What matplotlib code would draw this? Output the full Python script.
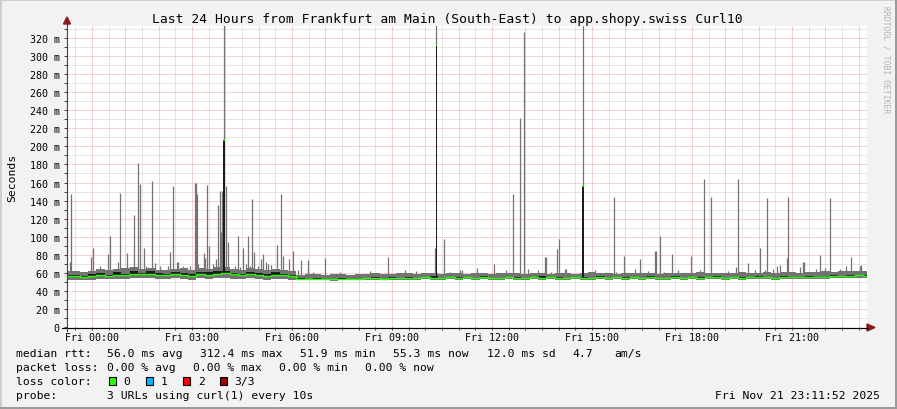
import numpy as np
import matplotlib
matplotlib.use("Agg")
import matplotlib.pyplot as plt
from matplotlib.patches import Rectangle, Polygon
from matplotlib.lines import Line2D

plt.rcParams['font.family'] = ['DejaVu Sans Mono']

# ---------------- data ----------------
title = "Last 24 Hours from Frankfurt am Main (South-East) to app.shopy.swiss Curl10"
hour_start, hour_end = -0.75, 23.25   # hours relative to Fri 00:00
step_h = 0.25

median_ms = [
    56.0, 56.5, 55.8, 56.8, 57.5, 57.0, 58.0, 57.5,
    59.0, 58.5, 59.2, 58.0, 57.5, 58.5, 57.8, 56.8,
    58.5, 58.0, 59.0, 59.5, 58.2, 57.5, 58.5, 57.5,
    57.0, 58.0, 57.2, 56.5, 53.5, 53.2, 53.5, 53.3,
    53.0, 53.4, 53.6, 53.3, 53.8, 54.2, 53.5, 54.6,
    54.2, 54.8, 54.4, 55.0, 54.6, 54.8, 55.2, 54.5,
    55.0, 54.4, 55.2, 54.6, 54.2, 55.0, 54.8, 54.3,
    55.2, 54.7, 54.9, 54.4, 54.8, 55.0, 54.2, 54.6,
    55.1, 54.5, 54.9, 54.3, 55.2, 54.6, 55.0, 54.4,
    54.8, 55.3, 54.6, 54.9, 54.3, 55.0, 55.4, 54.7,
    55.2, 54.6, 55.0, 55.6, 55.2, 54.8, 55.4, 55.0,
    55.6, 55.2, 55.8, 55.4, 56.6, 57.0, 56.8, 57.2,
    56.8]

smoke_top_ms = [
    62.0, 61.5, 61.0, 62.5, 64.0, 63.0, 64.0, 65.0,
    66.0, 64.5, 65.0, 63.5, 63.0, 64.0, 65.0, 63.0,
    65.0, 64.0, 66.0, 66.5, 64.0, 63.0, 65.0, 64.0,
    63.0, 64.0, 63.0, 62.0, 58.0, 58.5, 59.0, 58.0,
    58.5, 59.0, 58.0, 58.5, 59.0, 59.5, 58.5, 59.0,
    59.5, 60.0, 59.0, 59.5, 60.0, 59.0, 59.5, 60.0,
    59.0, 60.0, 59.5, 59.0, 60.0, 59.5, 60.0, 59.0,
    59.5, 60.0, 59.0, 59.5, 60.0, 59.0, 59.5, 60.5,
    59.5, 60.0, 59.0, 59.5, 60.0, 59.5, 60.0, 59.0,
    59.5, 60.0, 59.5, 60.0, 60.5, 59.5, 60.0, 59.5,
    60.0, 60.5, 60.0, 59.5, 60.5, 60.0, 60.5, 61.0,
    60.0, 60.5, 61.0, 61.5, 61.0, 61.5, 62.0, 61.5,
    62.0]

smoke_bottom_ms = [
    52.0, 52.5, 52.0, 52.5, 53.0, 53.0, 53.5, 53.0,
    54.0, 54.0, 54.5, 53.5, 53.0, 54.0, 53.5, 52.5,
    54.0, 53.5, 54.0, 54.5, 53.5, 53.0, 54.0, 53.0,
    52.5, 53.5, 53.0, 52.0, 51.8, 51.6, 51.8, 51.6,
    51.4, 51.6, 51.8, 51.6, 52.0, 52.2, 51.8, 52.4,
    52.2, 52.6, 52.2, 52.8, 52.4, 52.6, 53.0, 52.4,
    52.8, 52.2, 53.0, 52.4, 52.0, 52.8, 52.6, 52.2,
    53.0, 52.6, 52.8, 52.2, 52.6, 52.8, 52.0, 52.4,
    53.0, 52.4, 52.8, 52.2, 53.0, 52.4, 52.8, 52.2,
    52.6, 53.2, 52.4, 52.8, 52.2, 52.8, 53.2, 52.6,
    53.0, 52.4, 52.8, 53.4, 53.0, 52.6, 53.2, 52.8,
    53.4, 53.0, 53.6, 53.2, 54.0, 54.4, 54.2, 54.6,
    54.2]

dark_top_ms = [
    57.5, 58.0, 56.5, 59.0, 60.0, 58.0, 61.0, 59.0,
    61.5, 60.0, 62.0, 60.0, 58.5, 61.0, 60.0, 59.0,
    61.0, 60.5, 62.0, 62.5, 60.0, 59.0, 61.0, 60.0,
    58.5, 60.5, 59.0, 58.0, 54.0, 53.2, 54.5, 53.3,
    53.0, 54.4, 53.6, 53.3, 53.8, 55.5, 53.5, 55.6,
    54.2, 55.8, 54.4, 55.0, 56.0, 54.8, 55.2, 55.5,
    55.0, 54.4, 56.2, 54.6, 54.2, 55.0, 55.8, 54.3,
    55.2, 56.0, 54.9, 55.4, 54.8, 55.0, 55.5, 54.6,
    56.0, 54.5, 54.9, 55.3, 55.2, 54.6, 56.0, 54.4,
    54.8, 56.3, 54.6, 54.9, 55.5, 55.0, 56.4, 54.7,
    55.2, 55.6, 55.0, 56.6, 55.2, 54.8, 56.4, 55.0,
    55.6, 56.2, 55.8, 55.4, 57.6, 57.0, 58.0, 57.2,
    57.8]

spike_hours = [
    -0.67, -0.64, -0.04, 0.02, 0.23, 0.47, 0.53, 0.79, 0.84, 1.05, 1.13, 1.26,
    1.38, 1.44, 1.56, 1.63, 1.80, 1.90, 2.03, 2.28, 2.34, 2.43, 2.55, 2.58,
    2.73, 2.93, 3.09, 3.12, 3.16, 3.18, 3.36, 3.40, 3.46, 3.51, 3.63, 3.73,
    3.79, 3.83, 3.87, 3.89, 4.03, 4.09, 4.18, 4.28, 4.39, 4.43, 4.53, 4.63,
    4.68, 4.73, 4.81, 4.86, 4.98, 5.08, 5.13, 5.23, 5.28, 5.38, 5.54, 5.67,
    5.73, 5.91, 6.02, 6.17, 6.27, 6.49, 6.62, 7.00, 7.43, 8.33, 8.88, 9.38,
    9.73, 10.29, 10.56, 10.73, 11.03, 11.11, 11.55, 11.73, 12.06, 12.43, 12.63,
    12.84, 12.96, 13.08, 13.39, 13.60, 13.63, 13.78, 13.95, 14.01, 14.19, 14.21,
    15.08, 15.43, 15.66, 15.73, 15.96, 16.28, 16.44, 16.68, 16.90, 16.93, 17.04,
    17.15, 17.40, 17.58, 17.97, 18.23, 18.36, 18.57, 19.08, 19.33, 19.38, 19.69,
    19.88, 20.03, 20.19, 20.25, 20.44, 20.55, 20.65, 20.85, 20.88, 21.23, 21.33,
    21.35, 21.73, 21.85, 21.98, 22.14, 22.43, 22.63, 22.78, 23.03, 23.07]
spike_ms = [
    72, 147, 77, 88, 67.5, 81, 101, 72, 148, 82, 66, 124,
    182, 158, 87, 68, 162, 71, 67, 68, 83, 156, 72, 72,
    68, 67, 160, 160, 147, 70, 82, 76, 157, 90, 70, 75,
    135, 151, 105, 151, 156, 94, 63, 68, 101, 66, 87, 70,
    101, 68, 142, 83, 68, 75, 81, 72, 70, 69, 91, 147,
    79, 75, 84, 63, 74, 74, 60.5, 76, 61, 62, 78, 63,
    62, 87, 98, 61, 63, 63, 65, 60, 70, 63, 147,
    232, 327, 64.5, 63.5, 77, 77, 61, 86, 97, 64, 64,
    62.7, 61, 144, 61, 79, 64, 75, 61.6, 84, 84, 101,
    61, 81, 63, 79, 63, 164, 144, 61.6, 66, 164, 71,
    62.7, 88, 63.6, 143, 63.8, 68, 69, 76, 144, 66, 72,
    72, 64, 80, 65, 143, 63.8, 68, 77, 68, 69]

dark_spike_hours = [3.95, 10.33, 14.72]
dark_spike_median_ms = [207.0, 312.4, 156.0]
dark_spike_max_ms = [340.0, 340.0, 340.0]

xtick_hours = [0, 3, 6, 9, 12, 15, 18, 21]
xtick_labels = ["Fri 00:00", "Fri 03:00", "Fri 06:00", "Fri 09:00",
                "Fri 12:00", "Fri 15:00", "Fri 18:00", "Fri 21:00"]
ytick_values = list(range(0, 321, 20))
ytick_labels = ["0"] + [f"{v} m" for v in ytick_values[1:]]

rtt_label = "median rtt:"
rtt_items = ["56.0 ms avg", "312.4 ms max", "51.9 ms min", "55.3 ms now", "12.0 ms sd", "4.7", "am/s"]
loss_label = "packet loss:"
loss_items = ["0.00 % avg", "0.00 % max", "0.00 % min", "0.00 % now"]
color_label = "loss color:"
color_names = ["0", "1", "2", "3/3"]
color_values = ["#26ff00", "#00b8ff", "#ff0000", "#a10000"]
probe_label = "probe:"
probe_text = "3 URLs using curl(1) every 10s"
stamp_text = "Fri Nov 21 23:11:52 2025"
watermark = "RRDTOOL / TOBI OETIKER"

# ---------------- figure ----------------
W, H = 897, 410
fig = plt.figure(figsize=(W / 100, H / 100), dpi=100)
fig.patch.set_facecolor('#f2f2f2')

def fx(x):
    return x / W

def fy(y):
    return 1 - y / H

L, T, R, B = 67, 27, 867, 328
ax = fig.add_axes([fx(L), fy(B), (R - L) / W, (B - T) / H])
ax.set_facecolor('white')
ax.set_xlim(hour_start, hour_end)
ymax = (B - T) / 0.903
ax.set_ylim(0, ymax)
for s in ax.spines.values():
    s.set_visible(False)

# grid
RED_GRID = '#f2a6a6'
GRAY_GRID = '#cccccc'
for yv in np.arange(10, ymax, 10):
    major = int(round(yv)) % 20 == 0
    ax.axhline(yv, color=RED_GRID if major else GRAY_GRID, lw=0.72,
               ls=(0, (1, 1)), zorder=0.5)
for xv in np.arange(-0.5, hour_end, 0.5):
    major = abs(xv - round(xv)) < 1e-6
    ax.axvline(xv, color=RED_GRID if major else GRAY_GRID, lw=0.72,
               ls=(0, (1, 1)), zorder=0.5)

t = hour_start + step_h * np.arange(len(median_ms))
med = np.array(median_ms)

GRAY = '#737373'
DARK = '#1c1c1c'
GREEN = '#26ff00'

ax.fill_between(t, smoke_bottom_ms, smoke_top_ms, step='mid', color=GRAY, lw=0, zorder=2)
ax.vlines(spike_hours, 56, spike_ms, color=GRAY, lw=0.9, zorder=2)
ax.fill_between(t, med, dark_top_ms, step='mid', color=DARK, lw=0, zorder=3)

for h, m, mx in zip(dark_spike_hours, dark_spike_median_ms, dark_spike_max_ms):
    i = int(round((h - hour_start) / step_h))
    base = median_ms[i]
    ax.vlines(h, m, mx, color=GRAY, lw=0.9, zorder=2)
    ax.bar(h, m - base, bottom=base, width=0.05, color=DARK, lw=0, zorder=3)
    ax.hlines(m, h - 0.025, h + 0.025, color=GREEN, lw=1.2, zorder=4)

ax.plot(t, med, drawstyle='steps-mid', color=GREEN, lw=1.0, zorder=4)

# ticks
ax.set_xticks(xtick_hours, xtick_labels)
ax.set_xticks(np.arange(-0.5, hour_end, 0.5), minor=True)
ax.set_yticks(ytick_values, ytick_labels)
ax.set_yticks(np.arange(10, ymax, 20), minor=True)
ax.tick_params(axis='both', which='both', direction='out', length=2.5, width=0.7,
               color='#404040', labelsize=7.2, labelcolor='#000000')
ax.tick_params(axis='x', which='major', pad=1.2)
ax.tick_params(axis='y', which='major', pad=2.8)

# axes lines & arrows
fig.add_artist(Line2D([fx(62), fx(868)], [fy(B + 0.5), fy(B + 0.5)], color='#000000', lw=0.8))
fig.add_artist(Line2D([fx(L), fx(L)], [fy(332), fy(24)], color='#404040', lw=0.8))
fig.add_artist(Polygon([[fx(867), fy(B - 3)], [fx(867), fy(B + 4)], [fx(875), fy(B + 0.5)]],
                       closed=True, transform=fig.transFigure, color='#8b1a1a'))
fig.add_artist(Polygon([[fx(L - 3.5), fy(25)], [fx(L + 3.5), fy(25)], [fx(L), fy(18)]],
                       closed=True, transform=fig.transFigure, color='#8b1a1a'))

# title & texts
fig.text(fx(447.5), fy(19.3), title, ha='center', va='center', fontsize=9.4, color='#000000')
fig.text(fx(886), fy(60), watermark, rotation=270, ha='center', va='center',
         fontsize=5.8, color='#b4b4b4')
fig.text(fx(12), fy(178), "Seconds", rotation=90, ha='center', va='center', fontsize=8.2)

FS = 8.2
def txt(x, y, s, **kw):
    fig.text(fx(x), fy(y), s, ha='left', va='center', fontsize=FS, color='#000000', **kw)

row1, row2, row3, row4 = 354.3, 367.7, 382.0, 396.0
txt(16, row1, rtt_label)
for x, s in zip([107.3, 200, 300, 393.3, 486.7, 572.3, 614], rtt_items):
    txt(x, row1, s)
txt(16, row2, loss_label)
for x, s in zip([107.3, 193.3, 279.3, 365.3], loss_items):
    txt(x, row2, s)
txt(16, row3, color_label)
for bx, name, col in zip([108.5, 145.8, 182.8, 219.5], color_names, color_values):
    fig.add_artist(Rectangle((fx(bx), fy(386)), 7.5 / W, 8 / H, transform=fig.transFigure,
                             facecolor=col, edgecolor='#000000', lw=0.8))
    txt(bx + 15, row3, name)
txt(16, row4, probe_label)
txt(107.3, row4, probe_text)
fig.text(fx(880), fy(row4), stamp_text, ha='right', va='center', fontsize=FS, color='#000000')

# image frame
fig.add_artist(Rectangle((0, fy(2)), 1, 2 / H, transform=fig.transFigure, color='#cfcfcf', lw=0))
fig.add_artist(Rectangle((0, 0), 2 / W, 1, transform=fig.transFigure, color='#cfcfcf', lw=0))
fig.add_artist(Rectangle((0, 0), 1, 2.5 / H, transform=fig.transFigure, color='#9a9a9a', lw=0))
fig.add_artist(Rectangle((fx(W - 2.5), 0), 2.5 / W, 1, transform=fig.transFigure, color='#9a9a9a', lw=0))

fig.savefig('out.png', dpi=100, facecolor=fig.get_facecolor())
